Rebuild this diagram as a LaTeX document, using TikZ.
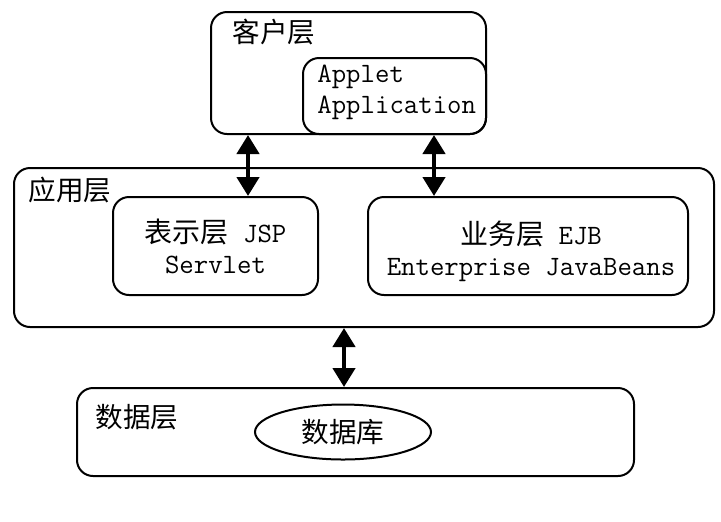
\documentclass[tikz,border=0pt]{standalone}
\usepackage{fontspec}
\newfontfamily\cjk{Noto Sans CJK SC}
\usetikzlibrary{positioning, shapes.geometric, arrows.meta}

\tikzset{
    layer/.style   = {draw, line width = 1pt, rounded corners = 8pt, inner sep = 0pt},
    dblarrow/.style = {line width = 2.2pt, {Triangle[length = 9.5pt, width = 11pt]}-{Triangle[length = 9.5pt, width = 11pt]}},
    tag/.style     = {anchor = west, inner sep = 0pt, font = \cjk\fontsize{13.8}{16}\selectfont}
}

\begin{document}
\begin{tikzpicture}[x = 0.5pt, y = -0.5pt, font = \ttfamily\fontsize{14}{15.5}\selectfont]
        \useasboundingbox (0,0) rectangle (721,521);

        % client tier
        \node (client) [layer, minimum width = 137.5pt, minimum height = 61pt] at (348.5,73) {};
        \node (applet) [layer, minimum width = 91.5pt, minimum height = 38pt] at (394.5,96) {};
        \node (ctag)   [tag] at (232,32) {客户层};
        \node (atext)  [anchor = west, align = left, inner sep = 0pt] at (317,92) {Applet\\Application};

        % application tier
        \node (app) [layer, minimum width = 350pt, minimum height = 79.5pt] at (364,247.5) {};
        \node (apptag) [tag] at (28,190) {应用层};
        \node (jsp) [layer, minimum width = 102.5pt, minimum height = 49pt, align = center] at (215.5,246)
            {{\cjk 表示层} JSP\\Servlet};
        \node (ejb) [layer, minimum width = 160pt, minimum height = 49pt] at (528,246) {};
        \node (ejbtext) [align = center, inner sep = 0pt] at (531,251.5)
            {{\cjk 业务层} EJB\\Enterprise JavaBeans};

        % data tier
        \node (data) [layer, minimum width = 278.5pt, minimum height = 44pt] at (355.5,432) {};
        \node (dtag) [tag] at (95,417) {数据层};
        \node (db) [draw, ellipse, line width = 1pt, minimum width = 88pt, minimum height = 27.5pt, inner sep = 0pt,
                    font = \cjk\fontsize{13.8}{16}\selectfont] at (343,432) {数据库};

        % links
        \coordinate (x1) at (248,0);
        \coordinate (x2) at (434,0);
        \coordinate (x3) at (344,0);
        \draw[dblarrow] (client.south -| x1) -- (jsp.north -| x1);
        \draw[dblarrow] (applet.south -| x2) -- (ejb.north -| x2);
        \draw[dblarrow] (app.south -| x3)    -- (data.north -| x3);

    \end{tikzpicture}
\end{document}
